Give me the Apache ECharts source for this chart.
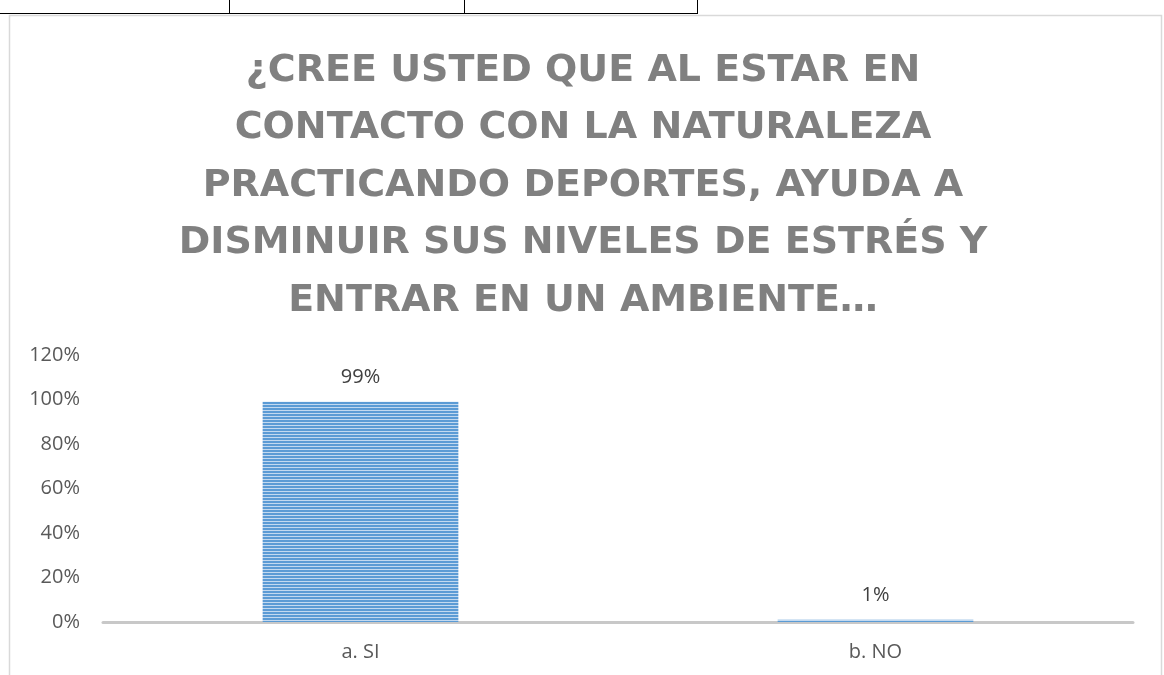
<!DOCTYPE html>
<html>
<head>
<meta charset="utf-8">
<script src="https://cdn.jsdelivr.net/npm/echarts@6/dist/echarts.min.js"></script>
<style>
  html, body { margin: 0; padding: 0; background: #fff; }
  #chart { width: 1164px; height: 675px; }
</style>
</head>
<body>
<div id="chart"></div>
<script>
var categories = ['a. SI', 'b. NO'];
var values = [0.99, 0.01];
var titleLines = [
  '¿CREE USTED QUE AL ESTAR EN',
  'CONTACTO CON LA NATURALEZA',
  'PRACTICANDO DEPORTES, AYUDA A',
  'DISMINUIR SUS NIVELES DE ESTRÉS Y',
  'ENTRAR EN UN AMBIENTE…'
];

// striped fill like the office pattern
function stripes() {
  var c = document.createElement('canvas');
  c.width = 4; c.height = 3;
  var g = c.getContext('2d');
  g.fillStyle = '#c2d9f0';
  g.fillRect(0, 0, 4, 3);
  g.fillStyle = '#5b9bd5';
  g.fillRect(0, 0, 4, 2);
  return c;
}

var myChart = echarts.init(document.getElementById('chart'));
var option = {
  backgroundColor: '#fff',
  animation: false,
  title: {
    text: titleLines.join('\n'),
    left: 578,
    textAlign: 'center',
    top: 37,
    textStyle: {
      fontFamily: 'DejaVu Sans',
      fontWeight: 'bold',
      fontSize: 38,
      lineHeight: 57.5,
      color: '#808080'
    }
  },
  graphic: [
    { type: 'line', shape: { x1: 0, y1: 13.5, x2: 698, y2: 13.5 }, style: { stroke: '#000', lineWidth: 1 } },
    { type: 'line', shape: { x1: 229.5, y1: 0, x2: 229.5, y2: 13 }, style: { stroke: '#000', lineWidth: 1 } },
    { type: 'line', shape: { x1: 464.5, y1: 0, x2: 464.5, y2: 13 }, style: { stroke: '#000', lineWidth: 1 } },
    { type: 'line', shape: { x1: 697.5, y1: 0, x2: 697.5, y2: 13 }, style: { stroke: '#000', lineWidth: 1 } },
    { type: 'rect', shape: { x: 9.5, y: 15.5, width: 1152, height: 680 }, style: { fill: 'none', stroke: '#d9d9d9', lineWidth: 1.5 }, z: -1 }
  ],
  grid: { left: 103, right: 31, top: 355, bottom: 53 },
  xAxis: {
    type: 'category',
    data: categories,
    axisLine: { lineStyle: { color: '#c8c8c8', width: 3 } },
    axisTick: { show: false },
    axisLabel: { color: '#595959', fontSize: 20, fontFamily: 'Open Sans', margin: 20 }
  },
  yAxis: {
    type: 'value',
    min: 0,
    max: 1.2,
    interval: 0.2,
    axisLine: { show: false },
    axisTick: { show: false },
    splitLine: { show: false },
    axisLabel: {
      color: '#595959',
      fontSize: 20,
      fontFamily: 'Open Sans',
      margin: 23,
      formatter: function (v) { return Math.round(v * 100) + '%'; }
    }
  },
  series: [{
    type: 'bar',
    data: values,
    barWidth: '38%',
    itemStyle: { color: { image: stripes(), repeat: 'repeat' } },
    label: {
      show: true,
      position: 'top',
      distance: 14,
      color: '#404040',
      fontSize: 20,
      fontFamily: 'Open Sans',
      formatter: function (p) { return Math.round(p.value * 100) + '%'; }
    }
  }]
};
myChart.setOption(option);
</script>
</body>
</html>
